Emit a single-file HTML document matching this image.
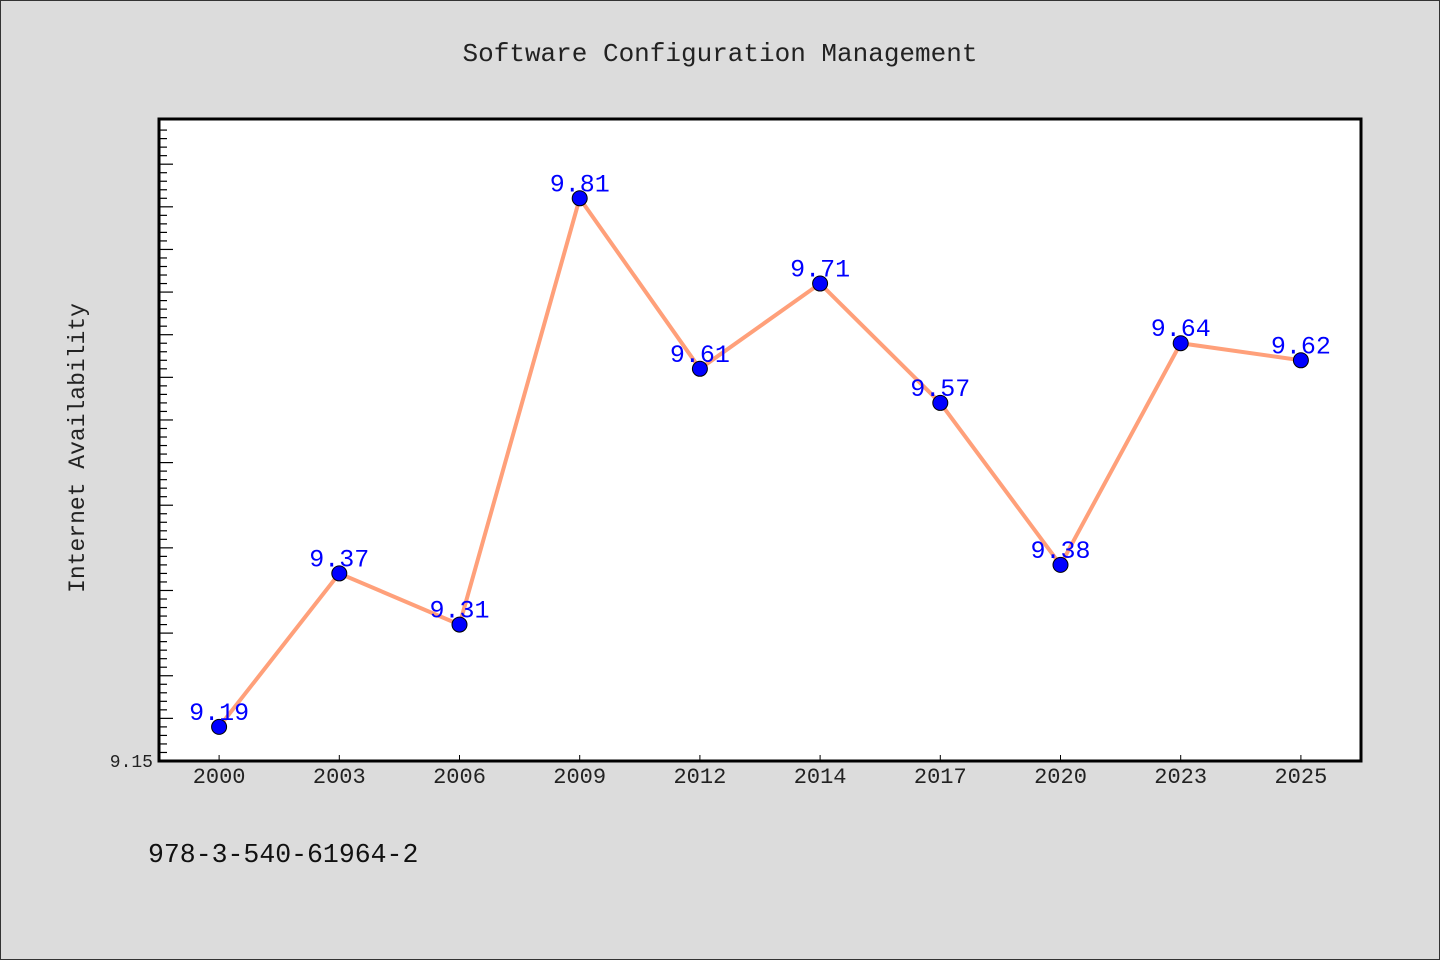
<!DOCTYPE html>
<html><head><meta charset="utf-8"><style>
html,body{margin:0;background:#dcdcdc;overflow:hidden;}
svg{display:block;}
svg text{font-family:"Liberation Mono","WenQuanYi Zen Hei",monospace;}
</style></head><body>
<svg width="1440" height="960" xmlns="http://www.w3.org/2000/svg">
<rect x="0.5" y="0.5" width="1439" height="959" fill="#dcdcdc" stroke="#333"/>
<text x="720" y="61" text-anchor="middle" font-size="26" fill="#222">Software Configuration Management</text>
<rect x="159" y="119" width="1202" height="642" fill="#fff" stroke="#000" stroke-width="3"/>
<text transform="translate(84,448) rotate(-90)" text-anchor="middle" font-size="23" fill="#222">Internet Availability</text>
<text x="153" y="767" text-anchor="end" font-size="18" fill="#222">9.15</text>
<text x="148" y="862" font-size="26.5" fill="#111">978-3-540-61964-2</text>
<g id="ticks"></g><g id="xaxis"></g><g id="series"></g>
</svg>
<script>
const categories=["2000","2003","2006","2009","2012","2014","2017","2020","2023","2025"];
const values=[9.19,9.37,9.31,9.81,9.61,9.71,9.57,9.38,9.64,9.62];
const yMin=9.15,yMax=9.903;
const L=159,R=1361,T=119,B=761;
const NS="http://www.w3.org/2000/svg";
const bw=(R-L)/categories.length;
function x(i){return L+bw*(i+0.5);}
function y(v){return B-(v-yMin)/(yMax-yMin)*(B-T);}
function mk(t,a,p){const e=document.createElementNS(NS,t);for(const k in a)e.setAttribute(k,a[k]);p.appendChild(e);return e;}
const tg=document.getElementById('ticks');
for(let k=1;k<100;k++){const v=yMin+k*0.01;const yy=y(v);if(yy<T+3)break;const major=k%5===0;
const t=mk('line',{x1:L,x2:L+(major?14:8),y1:yy,y2:yy,stroke:'#000','stroke-width':1.2},tg);

}
const xg=document.getElementById('xaxis');
categories.forEach((c,i)=>{
const t=mk('line',{x1:x(i),x2:x(i),y1:B,y2:B-6,stroke:'#000'},xg);


const l=mk('text',{x:x(i),y:B+22,'text-anchor':'middle','font-size':22,fill:'#222'},xg);l.textContent=c;

});
const sg=document.getElementById('series');
const line=mk('polyline',{points:values.map((v,i)=>x(i)+','+y(v)).join(' '),fill:'none',stroke:'#ffa07a','stroke-width':4},sg);


values.forEach((v,i)=>{
const c=mk('circle',{cx:x(i),cy:y(v),r:7.5,fill:'#0000ff',stroke:'#000','stroke-width':1},sg);


const l=mk('text',{x:x(i),y:y(v)-7,'text-anchor':'middle','font-size':25,fill:'#0000ff'},sg);l.textContent=v.toFixed(2);

});
</script>
</body></html>
